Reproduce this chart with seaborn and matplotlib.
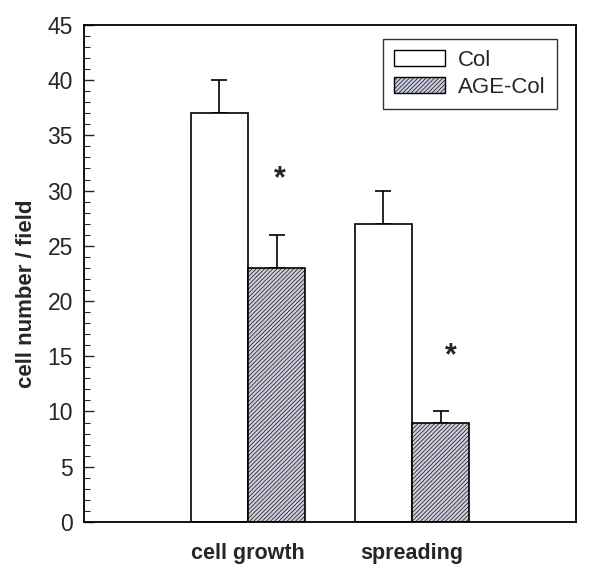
import matplotlib
matplotlib.use('Agg')
import matplotlib.pyplot as plt
import matplotlib.patches as mpatches
from matplotlib.ticker import MultipleLocator
import pandas as pd
import numpy as np
import seaborn as sns

# data
categories = ['cell growth', 'spreading']
groups = ['Col', 'AGE-Col']
col_means = [37, 27]
col_err = [3, 3]
age_means = [23, 9]
age_err = [3, 1]
significant = [True, True]   # asterisk above AGE-Col bars

sns.set_style('ticks')
plt.rcParams['font.family'] = ['Liberation Sans', 'DejaVu Sans']
plt.rcParams['hatch.linewidth'] = 0.45

df = pd.DataFrame({
    'category': categories * 2,
    'group': [groups[0]] * 2 + [groups[1]] * 2,
    'value': col_means + age_means,
    'err': col_err + age_err,
})

fig = plt.figure(figsize=(6.0, 5.78), dpi=100)
ax = fig.add_axes([0.14, 0.097, 0.82, 0.86])

palette = {'Col': 'white', 'AGE-Col': '#c9c9df'}
sns.barplot(data=df, x='category', y='value', hue='group', order=categories,
            hue_order=groups, palette=palette, width=0.7, errorbar=None,
            edgecolor='black', linewidth=1.2, legend=False, ax=ax, zorder=2)

# bars: seaborn orders patches by hue, then category
bars = ax.patches
n = len(categories)
for i, p in enumerate(bars):
    g = i // n
    c = i % n
    if g == 1:
        p.set_hatch('////////')
    x = p.get_x() + p.get_width() / 2
    top = p.get_height()
    e = df['err'].iloc[i]
    ax.errorbar(x, top, yerr=[[0], [e]], fmt='none', ecolor='black',
                elinewidth=1.2, capsize=6, capthick=1.2, zorder=1)
    if g == 1 and significant[c]:
        ax.text(x + (0.02 if c == 0 else 0.06), top + e + 5.0, '*',
                ha='center', va='center', fontsize=22, fontweight='bold')

ax.set_xlim(-1, 2)
ax.set_ylim(0, 45)
ax.yaxis.set_major_locator(MultipleLocator(5))
ax.yaxis.set_minor_locator(MultipleLocator(1))
ax.tick_params(axis='y', which='major', direction='in', length=7, width=1,
               labelsize=16.5, pad=8)
ax.tick_params(axis='y', which='minor', direction='in', length=4, width=0.8)
ax.tick_params(axis='x', length=0, pad=15)
for lbl in ax.get_xticklabels():
    lbl.set_fontsize(15.5)
    lbl.set_fontweight('bold')

ax.set_xlabel('')
ax.set_ylabel('cell number / field', fontsize=16, fontweight='bold')
ax.yaxis.set_label_coords(-0.095, 0.46)
for s in ax.spines.values():
    s.set_visible(True)
    s.set_linewidth(1.3)
    s.set_color('black')

handles = [
    mpatches.Patch(facecolor=palette['Col'], edgecolor='black', linewidth=1.0, label='Col'),
    mpatches.Patch(facecolor=palette['AGE-Col'], edgecolor='black', linewidth=1.0,
                   hatch='////////', label='AGE-Col'),
]
leg = ax.legend(handles=handles, loc='upper right', bbox_to_anchor=(0.975, 0.985),
                fontsize=16, frameon=True, fancybox=False, handlelength=2.3,
                handleheight=0.75, handletextpad=0.6, borderpad=0.5,
                labelspacing=0.25, borderaxespad=0.3)
leg.get_frame().set_edgecolor('black')
leg.get_frame().set_linewidth(1.0)

fig.savefig('out.png', dpi=100)
